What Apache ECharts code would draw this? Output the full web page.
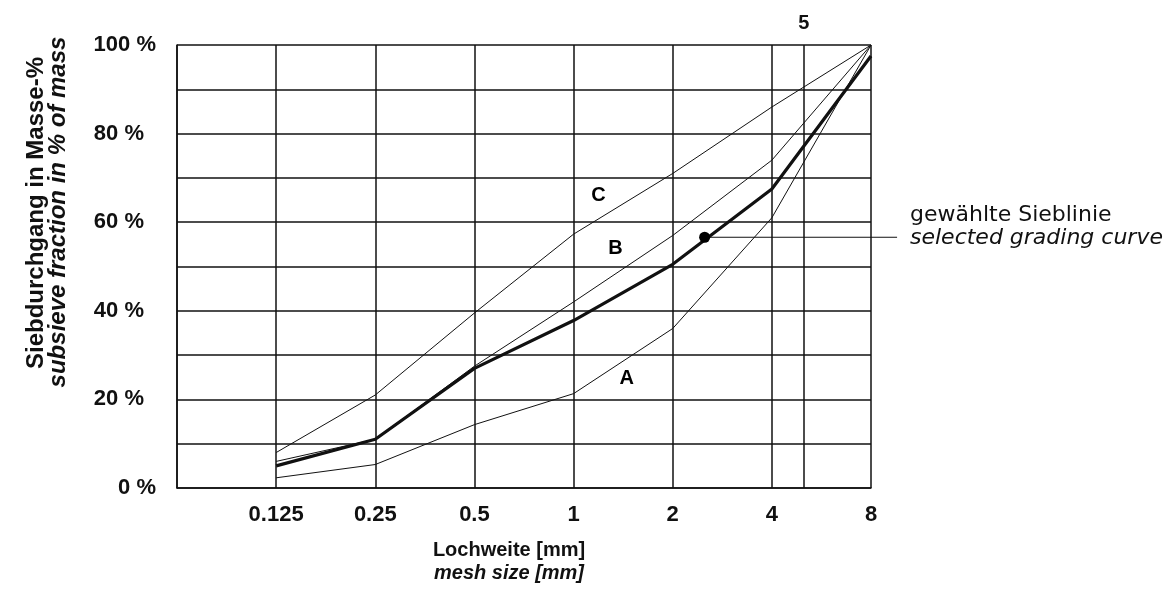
<!DOCTYPE html>
<html>
<head>
<meta charset="utf-8">
<script src="https://cdn.jsdelivr.net/npm/echarts@6/dist/echarts.min.js"></script>
<style>
html,body{margin:0;padding:0;background:#fff;}
#chart{width:1168px;height:594px;}
</style>
</head>
<body>
<div id="chart"></div>
<script>
// sieve sizes (mm) and passing percentages
const sieveSizes = [0.125, 0.25, 0.5, 1, 2, 4, 8];
const curveA = [2.3, 5.3, 14.3, 21.3, 36, 61, 100];
const curveB = [6, 11, 27.5, 42, 57, 74, 100];
const curveC = [8, 21, 39.5, 57.3, 71, 86, 100];
const selectedCurve = [5, 11, 27, 37.8, 50.5, 67.5, 97.5];
const extraSieve = 5;
const yTicks = [0, 20, 40, 60, 80, 100];
const curveLabels = [
  { name: 'C', value: [1.19, 66] },
  { name: 'B', value: [1.34, 54] },
  { name: 'A', value: [1.45, 24.8] }
];
const markerPoint = [2.5, 56.6];
const leaderEnd = [9.6, 56.6];

const ink = '#111';
const FONT = '"Liberation Sans", Arial, sans-serif';
const pairs = arr => sieveSizes.map((s, i) => [s, arr[i]]);

const chart = echarts.init(document.getElementById('chart'), null, { renderer: 'canvas' });
const thin = { color: ink, width: 1 };

chart.setOption({
  animation: false,
  backgroundColor: '#fff',
  grid: { left: 177, right: 297, top: 45, bottom: 106, containLabel: false },
  xAxis: {
    type: 'log', logBase: 2, min: 0.0625, max: 8,
    axisLine: { show: true, lineStyle: { color: ink, width: 1.5 } },
    axisTick: { show: false },
    splitLine: { show: true, lineStyle: { color: ink, width: 1.5 } },
    axisLabel: {
      margin: 16,
      color: ink, fontFamily: FONT, fontWeight: 'bold', fontSize: 22,
      formatter: v => (v < 0.1 ? '' : String(+(+v).toPrecision(6)))
    }
  },
  yAxis: {
    type: 'value', min: 0, max: 100, interval: 10,
    axisLine: { show: true, lineStyle: { color: ink, width: 1.5 } },
    axisTick: { show: false },
    splitLine: { show: true, lineStyle: { color: ink, width: 1.5 } },
    axisLabel: {
      margin: 21,
      color: ink, fontFamily: FONT, fontWeight: 'bold', fontSize: 22,
      formatter: v => {
        if (yTicks.indexOf(v) < 0) return '';
        return (v === 0 || v === 100) ? v + ' %' : '{p|' + v + ' %}';
      },
      rich: { p: { padding: [0, 12, 0, 0], color: ink, fontFamily: FONT, fontWeight: 'bold', fontSize: 22 } }
    }
  },
  series: [
    { name: 'A', type: 'line', data: pairs(curveA), symbol: 'none', lineStyle: thin, z: 3,
      markLine: {
        silent: true, symbol: 'none',
        lineStyle: { color: ink, width: 1.5, type: 'solid' },
        label: { show: true, position: 'end', formatter: String(extraSieve), color: ink,
          fontFamily: FONT, fontWeight: 'bold', fontSize: 20, distance: 12 },
        data: [{ xAxis: extraSieve }]
      }
    },
    { name: 'B', type: 'line', data: pairs(curveB), symbol: 'none', lineStyle: thin, z: 3 },
    { name: 'C', type: 'line', data: pairs(curveC), symbol: 'none', lineStyle: thin, z: 3 },
    { name: 'selected', type: 'line', data: pairs(selectedCurve), symbol: 'none',
      lineStyle: { color: ink, width: 3.2 }, z: 4 },
    { name: 'marker', type: 'scatter', data: [markerPoint], symbol: 'circle', symbolSize: 11,
      itemStyle: { color: '#000', opacity: 1 }, z: 6 },
    { name: 'labels', type: 'scatter', data: curveLabels, symbolSize: 0, z: 5,
      itemStyle: { opacity: 1 },
      label: { show: true, position: 'inside', formatter: p => p.name, color: '#000',
        fontFamily: FONT, fontWeight: 'bold', fontSize: 20 } }
  ],
  graphic: [
    { type: 'text', x: 36, y: 213, rotation: Math.PI / 2,
      style: { text: 'Siebdurchgang in Masse-%', fill: ink, textAlign: 'center', textVerticalAlign: 'middle',
        font: 'bold 24px ' + FONT } },
    { type: 'text', x: 58, y: 212, rotation: Math.PI / 2,
      style: { text: 'subsieve fraction in % of mass', fill: ink, textAlign: 'center', textVerticalAlign: 'middle',
        font: 'italic bold 24px ' + FONT } },
    { type: 'text', x: 509, y: 550,
      style: { text: 'Lochweite [mm]', fill: ink, textAlign: 'center', textVerticalAlign: 'middle',
        font: 'bold 20px ' + FONT } },
    { type: 'text', x: 509, y: 573,
      style: { text: 'mesh size [mm]', fill: ink, textAlign: 'center', textVerticalAlign: 'middle',
        font: 'italic bold 20px ' + FONT } },
    { type: 'text', x: 910, y: 215,
      style: { text: 'gewählte Sieblinie', fill: ink, textAlign: 'left', textVerticalAlign: 'middle',
        font: '22px "DejaVu Sans", Verdana, sans-serif' } },
    { type: 'text', x: 910, y: 238,
      style: { text: 'selected grading curve', fill: ink, textAlign: 'left', textVerticalAlign: 'middle',
        font: 'italic 22px "DejaVu Sans", Verdana, sans-serif' } }
  ]
});

// leader line from the marked point on the selected curve out past the plot edge
const p0 = chart.convertToPixel({ gridIndex: 0 }, markerPoint);
const p1 = chart.convertToPixel({ gridIndex: 0 }, leaderEnd);
chart.setOption({
  graphic: [{
    id: 'leader', type: 'line', z: 5,
    shape: { x1: p0[0], y1: p0[1], x2: p1[0], y2: p1[1] },
    style: { stroke: ink, lineWidth: 1 }
  }]
});
</script>
</body>
</html>
